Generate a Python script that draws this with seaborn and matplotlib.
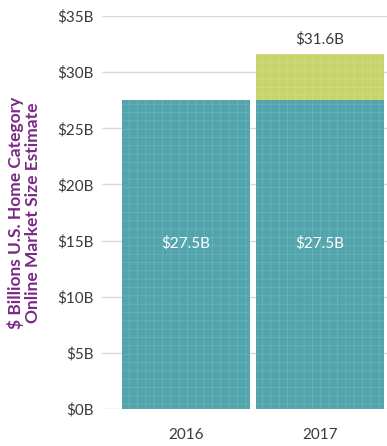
import matplotlib
matplotlib.use("Agg")
import matplotlib.pyplot as plt
import seaborn as sns
import pandas as pd

years = ["2016", "2017"]
base_values = [27.5, 27.5]
total_values = [27.5, 31.6]
base_labels = ["$27.5B", "$27.5B"]
total_labels = ["", "$31.6B"]
y_ticks = [0, 5, 10, 15, 20, 25, 30, 35]
y_tick_labels = ["$0B", "$5B", "$10B", "$15B", "$20B", "$25B", "$30B", "$35B"]
y_title = "$ Billions U.S. Home Category\nOnline Market Size Estimate"

teal = "#52a4ad"
lime = "#c8d46c"
purple = "#7a2a86"
text_gray = "#3a3a3a"

sns.set_style("white")
plt.rcParams["font.family"] = ["Lato", "DejaVu Sans"]
plt.rcParams["hatch.linewidth"] = 0.5

df = pd.DataFrame({"year": years, "base": base_values, "total": total_values})

fig = plt.figure(figsize=(3.87, 4.46), dpi=100)
ax = fig.add_axes([0.2636, 0.083, 0.7364, 0.881])

sns.barplot(data=df, x="year", y="total", color=lime, saturation=1, width=0.955,
            ax=ax, zorder=3)
sns.barplot(data=df, x="year", y="base", color=teal, saturation=1, width=0.955,
            ax=ax, zorder=3)
for p in ax.patches:
    p.set_hatch("++")
    p.set_edgecolor((1, 1, 1, 0.18))
    p.set_linewidth(0)

ax.set_xlim(-0.627, 1.5)
ax.set_ylim(0, 35)
ax.set_yticks(y_ticks)
ax.set_yticklabels(y_tick_labels)
ax.grid(axis="y", color="#d9d9d9", linewidth=1, zorder=0)
ax.grid(axis="x", visible=False)
for s in ax.spines.values():
    s.set_visible(False)
ax.tick_params(axis="y", length=0, pad=6, labelsize=11, labelcolor=text_gray)
ax.tick_params(axis="x", length=0, pad=14, labelsize=11, labelcolor=text_gray)
ax.set_xlabel("")
ax.set_ylabel(y_title, color=purple, fontsize=12.5, fontweight="bold", linespacing=1.05, labelpad=12)

for i in range(len(years)):
    ax.text(i, base_values[i] / 2 + 1.0, base_labels[i], color="white", ha="center",
            va="center", fontsize=11, zorder=5)
    if total_labels[i]:
        ax.text(i, total_values[i] + 1.3, total_labels[i], color=text_gray, ha="center",
                va="center", fontsize=11, zorder=5)

fig.savefig("out.png", dpi=100)
